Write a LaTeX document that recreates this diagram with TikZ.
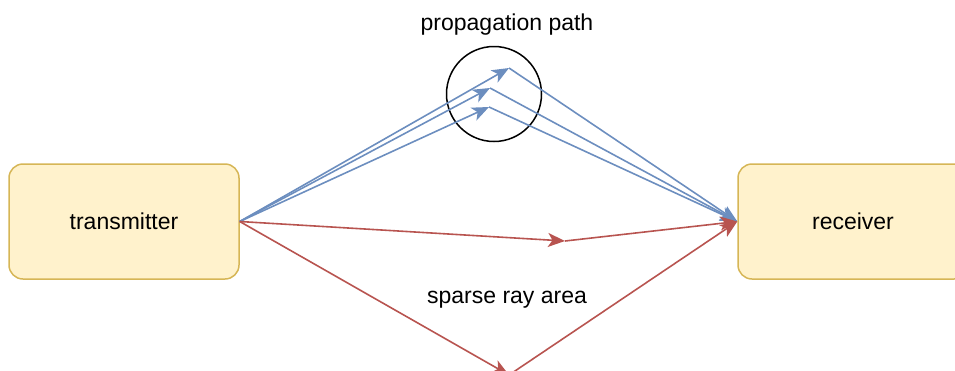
\documentclass[tikz,border=0pt]{standalone}
\usepackage{fontspec}
\setmainfont{Liberation Sans}
\usetikzlibrary{arrows.meta,positioning}
\definecolor{raysblue}{HTML}{6C8EBF}
\definecolor{raysred}{HTML}{B85450}
\definecolor{boxfill}{HTML}{FFF2CC}
\definecolor{boxline}{HTML}{D6B656}
\tikzset{
    endpointbox/.style={draw=boxline, fill=boxfill, line width=1.5pt, rounded corners=14pt, minimum width=230pt, minimum height=115pt, font=\fontsize{23}{27}\selectfont},
    raylabel/.style={font=\fontsize{23}{27}\selectfont},
    bluearrow/.style={draw=raysblue, line width=1.6pt, -{Stealth[length=17pt, width=14pt, inset=4.5pt]}},
    redarrow/.style={draw=raysred, line width=1.6pt, -{Stealth[length=17pt, width=14pt, inset=4.5pt]}}
}

\begin{document}
\begin{tikzpicture}[x=1pt, y=-1pt]
        \useasboundingbox (0,0) rectangle (955,370);
        \begin{scope}
        \clip (0,0) rectangle (955,370);
        \node[endpointbox] (tx) at (124,221.5) {transmitter};
        \node[endpointbox] (rx) at (853,221.5) {receiver};
        \node[draw, circle, line width=1.5pt, minimum size=95pt] (focus) at (494,94) {};
        \node[raylabel] (toplabel) at (507,25) {propagation path};
        \node[raylabel] (bottomlabel) at (507,300) {sparse ray area};
        % turning points of the rays
        \coordinate (b1) at (509,68);
        \coordinate (b2) at (490,88);
        \coordinate (b3) at (489,107);
        \coordinate (r1) at (565,241);
        \coordinate (r2) at (509,375);
        \draw[bluearrow] (tx.east) -- (b1);
        \draw[bluearrow] (tx.east) -- (b2);
        \draw[bluearrow] (tx.east) -- (b3);
        \draw[bluearrow] (b1) -- (rx.west);
        \draw[bluearrow] (b2) -- (rx.west);
        \draw[bluearrow] (b3) -- (rx.west);
        \draw[redarrow] (tx.east) -- (r1);
        \draw[redarrow] (r1) -- (rx.west);
        \draw[redarrow] (tx.east) -- (r2);
        \draw[redarrow] (r2) -- (rx.west);
        \end{scope}
    \end{tikzpicture}
\end{document}
